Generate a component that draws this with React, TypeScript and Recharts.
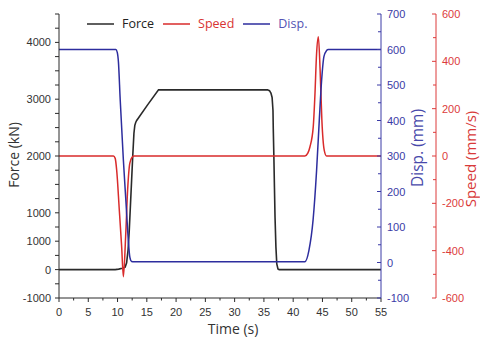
import React from 'react';
import { LineChart, Line, XAxis, YAxis, Legend } from 'recharts';

// time (s) / value pairs
const FORCE_T = [0, 9.6, 10.2, 10.8, 11.3, 11.55, 11.8, 12.0, 12.2, 12.4, 12.6, 12.8, 12.95, 13.1, 13.27, 15.1, 17.0, 35.6, 35.95, 36.2, 36.4, 36.55, 36.6, 36.7, 36.8, 36.9, 37.05, 37.2, 37.4, 37.6, 55];
const FORCE_KN = [0, 0, 8, 25, 45, 120, 350, 690, 1130, 1570, 2010, 2400, 2540, 2590, 2625, 2895, 3165, 3165, 3150, 3110, 3030, 2800, 2480, 2000, 1450, 920, 400, 100, 10, 0, 0];

const SPEED_T = [0, 9.3, 9.6, 9.85, 10.3, 10.7, 11.0, 11.38, 11.72, 12.1, 12.5, 12.8, 42.0, 42.5, 42.87, 43.43, 43.7, 44.0, 44.3, 44.6, 44.9, 45.3, 45.7, 55];
const SPEED_MMS = [0, 0, -10, -59, -228, -383, -510, -341, -144, -30, -5, 0, 0, 12, 39, 124, 250, 434, 504, 363, 152, 25, 0, 0];

const DISP_T = [0, 9.7, 9.95, 10.15, 10.45, 10.99, 11.44, 11.84, 12.1, 12.4, 12.8, 42.0, 42.7, 43.4, 44.0, 44.46, 44.86, 45.25, 45.7, 46.0, 55];
const DISP_MM = [600, 600, 592, 565, 460, 290, 170, 63, 15, 3, 2, 2, 35, 120, 260, 401, 514, 580, 597, 600, 600];

// axis ticks and the labels printed on them
const X_TICKS = [0, 2.5, 5, 7.5, 10, 12.5, 15, 17.5, 20, 22.5, 25, 27.5, 30, 32.5, 35, 37.5, 40, 42.5, 45, 47.5, 50, 52.5, 55];
const FORCE_TICKS = [-500, -250, 0, 250, 500, 750, 1000, 1250, 1500, 1750, 2000, 2250, 2500, 2750, 3000, 3250, 3500, 3750, 4000, 4250, 4500];
const FORCE_LABELED = [-500, 0, 500, 1000, 2000, 3000, 4000];
const FORCE_LABELS = ['-1000', '0', '1000', '1000', '2000', '3000', '4000'];
const DISP_TICKS = [-100, -50, 0, 50, 100, 150, 200, 250, 300, 350, 400, 450, 500, 550, 600, 650, 700];
const SPEED_TICKS = [-600, -500, -400, -300, -200, -100, 0, 100, 200, 300, 400, 500, 600];

const BLACK = '#2a2a2a';
const RED = '#d92b2b';
const BLUE = '#2d2d9e';
const TICK_FONT = '"Liberation Sans", Arial, sans-serif';
const TITLE_FONT = '"Open Sans", sans-serif';

const SERIES = [
  { name: 'Force', color: BLACK, text: '#222' },
  { name: 'Speed', color: RED, text: '#d83333' },
  { name: 'Disp.', color: BLUE, text: '#5454b4' },
];

const toPoints = (t: number[], v: number[]) => t.map((x, i) => ({ t: x, v: v[i] }));
const forceData = toPoints(FORCE_T, FORCE_KN);
const speedData = toPoints(SPEED_T, SPEED_MMS);
const dispData = toPoints(DISP_T, DISP_MM);

const BottomTick = (props: any) => {
  const { x, y, payload } = props;
  const major = Math.abs(payload.value % 5) < 1e-6;
  return (
    <g>
      <line x1={x} x2={x} y1={y} y2={y + (major ? 4 : 2.5)} stroke={BLACK} />
      {major && (
        <text x={x} y={y + 18} textAnchor="middle" fontSize={11} fontFamily={TICK_FONT} fill="#333">
          {payload.value}
        </text>
      )}
    </g>
  );
};

const LeftTick = (props: any) => {
  const { x, y, payload } = props;
  const idx = FORCE_LABELED.indexOf(payload.value);
  return (
    <g>
      <line x1={x - 4} x2={x} y1={y} y2={y} stroke={BLACK} />
      {idx >= 0 && (
        <text x={x - 8} y={y + 4} textAnchor="end" fontSize={11} fontFamily={TICK_FONT} fill="#333">
          {FORCE_LABELS[idx]}
        </text>
      )}
    </g>
  );
};

const RightTick = (props: any) => {
  const { x, y, payload, color, step } = props;
  const major = Math.abs(payload.value % step) < 1e-6;
  return (
    <g>
      <line x1={x - (major ? 4 : 3)} x2={x} y1={y} y2={y} stroke={color} />
      {major && (
        <text x={x + 6} y={y + 4} textAnchor="start" fontSize={11} fontFamily={TICK_FONT} fill={color}>
          {payload.value}
        </text>
      )}
    </g>
  );
};

const AxisTitle = (props: any) => {
  const { viewBox, title, ox = 0, oy = 0, rot = 0, tint = '#333', size = 14 } = props;
  const cx = viewBox.x + viewBox.width / 2 + ox;
  const cy = viewBox.y + viewBox.height / 2 + oy;
  return (
    <text
      x={cx}
      y={cy}
      transform={rot ? `rotate(${rot} ${cx} ${cy})` : undefined}
      textAnchor="middle"
      dominantBaseline="central"
      fontSize={size}
      fontFamily={TITLE_FONT}
      fill={tint}
    >
      {title}
    </text>
  );
};

const LegendContent = () => (
  <div style={{ display: 'flex', alignItems: 'center', fontFamily: TITLE_FONT, fontSize: 12.5 }}>
    {SERIES.map((s) => (
      <div key={s.name} style={{ display: 'flex', alignItems: 'center', marginRight: 9 }}>
        <svg width={27} height={4} style={{ marginRight: 8 }}>
          <line x1={0} x2={27} y1={2} y2={2} stroke={s.color} strokeWidth={1.5} />
        </svg>
        <span style={{ color: s.text }}>{s.name}</span>
      </div>
    ))}
  </div>
);

export default function App() {
  return (
    <div>
      <style>{`body{margin:0}`}</style>
      <LineChart width={480} height={338} margin={{ top: 14, right: 0, bottom: 0, left: 0 }}>
        <XAxis
          type="number"
          dataKey="t"
          domain={[0, 55]}
          ticks={X_TICKS}
          interval={0}
          height={40}
          tickSize={0}
          tickMargin={0}
          tickLine={false}
          tick={<BottomTick />}
          axisLine={{ stroke: BLACK }}
          allowDuplicatedCategory={false}
          label={<AxisTitle title="Time (s)" ox={13} oy={10} />}
        />
        <YAxis
          yAxisId="force"
          orientation="left"
          width={59}
          domain={[-500, 4500]}
          ticks={FORCE_TICKS}
          interval={0}
          tickSize={0}
          tickMargin={0}
          tickLine={false}
          tick={<LeftTick />}
          axisLine={{ stroke: BLACK }}
          label={<AxisTitle title="Force  (kN)" rot={-90} ox={-16.5} oy={-1} />}
        />
        <YAxis
          yAxisId="disp"
          orientation="right"
          width={55}
          domain={[-100, 700]}
          ticks={DISP_TICKS}
          interval={0}
          tickSize={0}
          tickMargin={0}
          tickLine={false}
          tick={<RightTick color="#3a3aa6" step={100} />}
          axisLine={{ stroke: '#3a3aa6' }}
          label={<AxisTitle title="Disp. (mm)" rot={-90} ox={8.5} oy={-8} tint="#4848aa" size={15.5} />}
        />
        <YAxis
          yAxisId="speed"
          orientation="right"
          width={44}
          domain={[-600, 600]}
          ticks={SPEED_TICKS}
          interval={0}
          tickSize={0}
          tickMargin={0}
          tickLine={false}
          tick={<RightTick color="#dc3b3b" step={200} />}
          axisLine={{ stroke: '#dc3b3b' }}
          label={<AxisTitle title="Speed (mm/s)" rot={-90} ox={12} oy={3} tint="#d83a3a" size={15} />}
        />
        <Legend
          layout="horizontal"
          verticalAlign="middle"
          content={<LegendContent />}
          wrapperStyle={{ top: 15, left: 87, width: 'auto' }}
        />
        <Line
          yAxisId="force"
          data={forceData}
          dataKey="v"
          name="Force"
          type="linear"
          stroke={BLACK}
          strokeWidth={1.6}
          dot={false}
          isAnimationActive={false}
        />
        <Line
          yAxisId="speed"
          data={speedData}
          dataKey="v"
          name="Speed"
          type="monotone"
          stroke={RED}
          strokeWidth={1.5}
          dot={false}
          isAnimationActive={false}
        />
        <Line
          yAxisId="disp"
          data={dispData}
          dataKey="v"
          name="Disp."
          type="monotone"
          stroke={BLUE}
          strokeWidth={1.5}
          dot={false}
          isAnimationActive={false}
        />
      </LineChart>
    </div>
  );
}
